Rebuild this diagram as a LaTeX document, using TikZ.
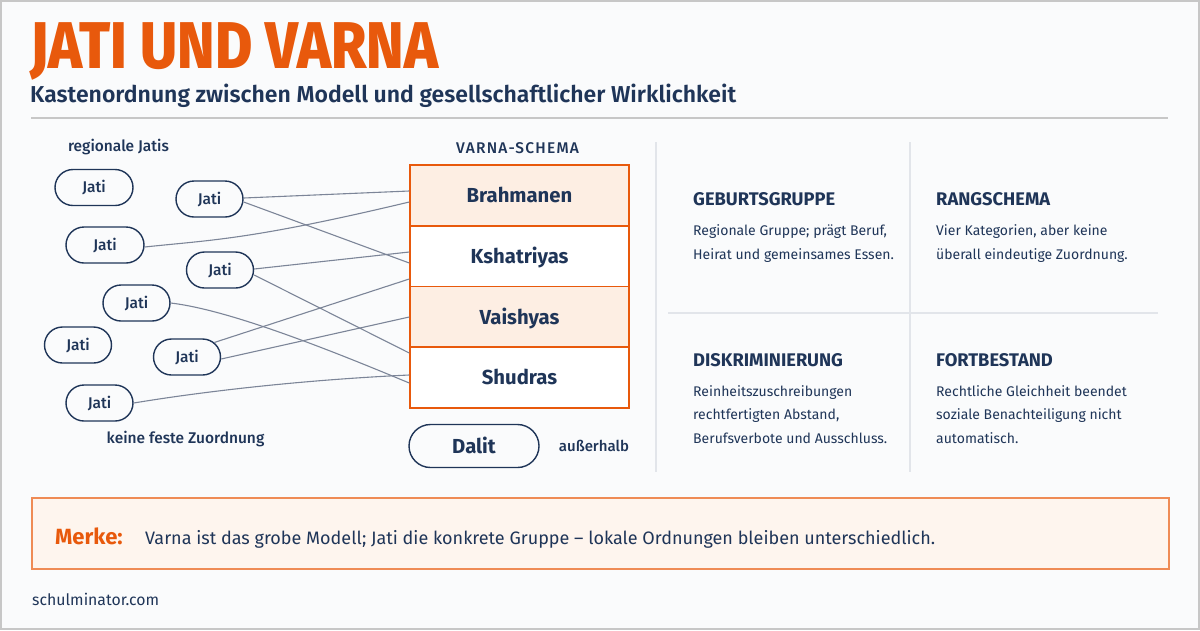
\documentclass[tikz,border=0pt]{standalone}
\usepackage{fontspec}
\setmainfont{Fira Sans}
\newfontfamily\titlefont[FakeStretch=0.865]{Fira Sans ExtraBold}
\newfontfamily\semifont{Fira Sans SemiBold}
\newfontfamily\medfont{Fira Sans Medium}
\usepackage{tikz}
\usetikzlibrary{shapes}
\usetikzlibrary{positioning}
\definecolor{navy}{HTML}{1F3558}
\definecolor{orng}{HTML}{E8590C}
\definecolor{peach}{HTML}{FDEEE3}
\definecolor{linegray}{HTML}{7C8598}
\definecolor{divgray}{HTML}{E2E5EA}
\definecolor{bgcol}{HTML}{FAFBFC}
\tikzstyle{jati}=[shape=rounded rectangle,draw=navy,line width=1.4pt,inner sep=0pt,minimum width=67pt,minimum height=36pt,text=navy,text height=10.5pt,text depth=0pt,font=\medfont\fontsize{15.5}{18}\selectfont]
\tikzstyle{jatiw}=[jati,minimum width=78pt]
\tikzstyle{varna}=[shape=rectangle,draw=orng,line width=1.5pt,inner sep=0pt,minimum width=219pt,minimum height=61pt,text=navy,text height=14pt,text depth=0pt,font=\bfseries\fontsize{20.3}{22}\selectfont]
\tikzstyle{tran}=[draw=linegray,line width=1.1pt]
\tikzstyle{lbl}=[inner sep=0pt,text=navy,font=\medfont\fontsize{15.5}{17}\selectfont]
\tikzstyle{head}=[anchor=base west,inner sep=0pt,text=navy,font=\bfseries\fontsize{18.3}{20}\selectfont]
\tikzstyle{body}=[anchor=base west,inner sep=0pt,text=navy,align=left,font=\fontsize{14}{23.5}\selectfont]
\newcommand{\jt}{Jati}

\begin{document}
\begin{tikzpicture}[x=1pt,y=-1pt]
\useasboundingbox (0,0) rectangle (1200,630);
\draw[draw=black!22,line width=2pt,fill=bgcol] (1,1) rectangle (1199,629);

% Kopf
\node[anchor=base west,inner sep=0pt,text=orng,font=\titlefont\fontsize{66}{70}\selectfont] (title) at (30,68) {JATI UND VARNA};
\node[anchor=base west,inner sep=0pt,text=navy,font=\semifont\fontsize{23}{26}\selectfont] (sub) at (30,102) {Kastenordnung zwischen Modell und gesellschaftlicher Wirklichkeit};
\draw[draw=black!22,line width=1.2pt] (31,118) -- (1168,118);

% Jatis
\node[lbl] (reg) at (118.5,147) {regionale Jatis};
\node[jatiw] (j1) at (94,187.5) {\jt};
\node[jati] (j2) at (209.5,199) {\jt};
\node[jatiw] (j3) at (105,245) {\jt};
\node[jati] (j4) at (220,270) {\jt};
\node[jati] (j5) at (136.5,303) {\jt};
\node[jati] (j6) at (78,345) {\jt};
\node[jati] (j7) at (187,357) {\jt};
\node[jati] (j8) at (99.5,403) {\jt};
\node[lbl] (keine) at (185.5,439) {keine feste Zuordnung};

% Varna
\node[lbl,font=\medfont\fontsize{15.5}{17}\selectfont\addfontfeature{LetterSpace=8}] (schema) at (517.5,148) {VARNA-SCHEMA};
\node[varna,fill=peach] (brah) at (519.5,195.5) {Brahmanen};
\node[varna,fill=white] (ksha) at (519.5,256.5) {Kshatriyas};
\node[varna,fill=peach] (vais) at (519.5,317) {Vaishyas};
\node[varna,fill=white] (shud) at (519.5,377.5) {Shudras};
\node[jati,minimum width=130pt,minimum height=43pt,text height=14pt,font=\bfseries\fontsize{20.3}{22}\selectfont] (dalit) at (474,446) {Dalit};
\node[lbl,right=19pt of dalit,font=\medfont\fontsize{15}{17}\selectfont] (ausser) {außerhalb};

\draw[tran] ([yshift=1]j2.east) -- ([yshift=4.5]brah.west);
\draw[tran] ([yshift=-3]j2.east) -- ([yshift=-6.5]ksha.west);
\draw[tran] ([yshift=-2]j3.east) .. controls (210,240) and (250,240) .. ([yshift=-6.5]brah.west);
\draw[tran] ([yshift=1]j4.east) -- ([yshift=4.5]ksha.west);
\draw[tran] ([yshift=-5]j4.east) -- ([yshift=24.5]shud.west);
\draw[tran] (j5.east) .. controls (230,310) and (330,350) .. ([yshift=-5.5]shud.west);
\draw[tran] (j7.28) -- ([yshift=-22.5]ksha.west);
\draw[tran] ([yshift=-2]j7.east) -- (vais.west);
\draw[tran] (j8.east) .. controls (200,392) and (300,380) .. ([yshift=2.5]shud.west);

% Raster rechts
\draw[draw=divgray,line width=1.5pt] (656,142) -- (656,472);
\draw[draw=divgray,line width=1.5pt] (910,142) -- (910,472);
\draw[draw=divgray,line width=1.5pt] (668,313) -- (1158,313);
\node[head] (geb) at (693,205) {GEBURTSGRUPPE};
\node[body] (gebtx) at (693,259) {Regionale Gruppe; prägt Beruf,\\Heirat und gemeinsames Essen.};
\node[head] (rang) at (936,205) {RANGSCHEMA};
\node[body] (rangtx) at (936,259) {Vier Kategorien, aber keine\\überall eindeutige Zuordnung.};
\node[head] (disk) at (693,366) {DISKRIMINIERUNG};
\node[body] (disktx) at (693,443) {Reinheitszuschreibungen\\rechtfertigten Abstand,\\Berufsverbote und Ausschluss.};
\node[head] (fort) at (936,366) {FORTBESTAND};
\node[body] (forttx) at (936,443) {Rechtliche Gleichheit beendet\\soziale Benachteiligung nicht\\automatisch.};

% Merke
\node[draw=orng!70,line width=1.3pt,fill=peach!60,inner sep=0pt,minimum width=1137pt,minimum height=71pt] (merke) at (600.5,533.5) {};
\node[anchor=base west,inner sep=0pt,text=orng,font=\bfseries\fontsize{22}{24}\selectfont] (mk) at (55,544) {Merke:};
\node[anchor=base west,inner sep=0pt,text=navy,font=\fontsize{18}{21}\selectfont] (mktx) at (145,544) {Varna ist das grobe Modell; Jati die konkrete Gruppe – lokale Ordnungen bleiben unterschiedlich.};
\node[anchor=base west,inner sep=0pt,text=navy,font=\fontsize{15.8}{18}\selectfont] (url) at (32,605) {schulminator.com};
\end{tikzpicture}
\end{document}
